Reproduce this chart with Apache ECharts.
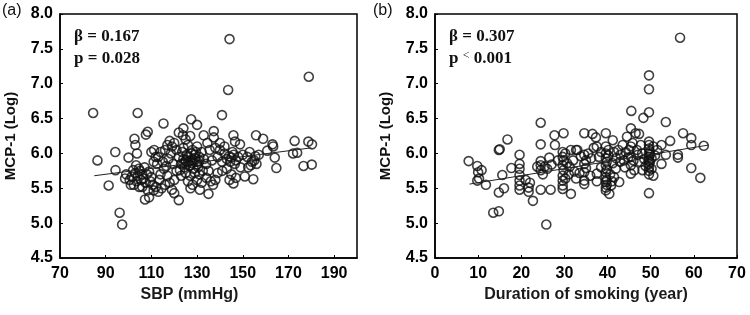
<!DOCTYPE html>
<html>
<head>
<meta charset="utf-8">
<script src="https://cdn.jsdelivr.net/npm/echarts@6/dist/echarts.min.js"></script>
<style>
  html, body { margin: 0; padding: 0; background: #fff; }
  #chart { width: 750px; height: 315px; }
</style>
</head>
<body>
<div id="chart"></div>
<script>
// (a) SBP vs MCP-1 (Log)
var sbpData = [
  [84.5,6.58],[86.4,5.90],[91.3,5.54],[94.2,6.02],[94.3,5.76],[96.1,5.15],[97.2,4.98],
  [104,6.58],[100,5.94],[102.6,6.21],[103,6.12],[103.7,6.00],[103.3,5.83],[98.5,5.64],
  [101.4,5.67],[102.3,5.55],[104.7,5.52],[107.2,5.34],[109,5.37],[107.6,6.27],[108.4,6.31],
  [115.3,6.43],[111.2,6.05],[111.9,5.95],[122,5.33],[120,5.43],[127.4,6.49],[130,6.41],
  [124,6.36],[123.8,6.26],[140.9,6.55],[143.6,6.91],[144.2,7.64],[132.9,6.26],[137.3,6.32],
  [137.3,6.23],[145.9,6.26],[146.6,6.17],[148.8,6.13],[155.8,6.26],[158.9,6.21],[160.7,6.04],
  [163,6.13],[163.3,6.10],[164,5.94],[164.7,5.79],[172.7,6.18],[172,6.00],[173.8,6.01],
  [178.9,7.10],[178.7,6.17],[180.3,6.13],[176.6,5.82],[180.2,5.84],[154.6,5.63],[152.4,5.80],
  [150.9,5.67],[145.9,5.57],[144.2,5.62],[135,5.42],[131.2,5.48],[127.1,5.50],
  [103,5.72],[104,5.68],[105,5.75],[106,5.70],[104.5,5.78],[106.5,5.64],[107,5.80],[105.5,5.62],
  [108,5.70],[102,5.76],[103.5,5.60],[107.5,5.58],[109,5.74],[110,5.66],[100.5,5.62],[99,5.70],
  [101,5.55],[106,5.52],[108.5,5.47],[110.5,5.55],[112,5.52],[113,5.45],[114.5,5.50],[111,5.47],
  [109.5,5.60],
  [113,5.95],[114,6.02],[115,5.88],[116,6.05],[117,6.12],[118,6.18],[119,6.10],[120,6.15],
  [118.5,6.00],[117.5,5.92],[116.5,5.82],[115.5,5.78],[119.5,5.85],[121,6.05],[122,5.95],
  [114,5.70],[113.5,5.62],[112.5,5.85],[121,5.75],[120,5.62],[118,5.58],[117,5.68],[116,5.55],
  [119,5.48],[110,6.02],[111,5.88],
  [123,5.85],[124,5.92],[125,5.88],[126,5.95],[127,5.90],[128,5.86],[129,5.93],[130,5.88],
  [131,5.95],[124.5,5.80],[125.5,5.98],[126.5,5.82],[127.5,6.00],[128.5,5.78],[129.5,6.02],
  [130.5,5.80],[123.5,6.02],[122.5,5.76],[124,6.08],[126,6.12],[128,6.05],[130,6.10],[132,6.02],
  [133,5.92],[134,5.85],[132.5,5.75],[131,5.70],[129,5.72],[127,5.68],[125,5.72],[123,5.68],
  [126,5.60],[128,5.55],[130,5.62],[132,5.58],[134,5.65],[135,5.75],[136,5.60],[137,5.55],
  [138,5.62],[136.5,5.90],[135.5,6.05],[134.5,6.15],[125,6.20],[122,6.30],[127,6.25],[129,5.98],
  [127,5.83],[125,5.90],[128,5.91],[126,5.87],[124,5.86],[130,5.84],[131,5.89],
  [139,5.95],[140,6.05],[141,5.88],[142,6.00],[143,5.92],[144,5.96],[145,5.94],[146,5.98],
  [147,5.90],[145.5,6.02],[144.5,5.88],[146.5,5.85],[148,5.95],[143,5.78],[141,5.75],[139,5.72],
  [145,5.70],[147,5.65],[149,5.80],[150,5.98],[142,6.10],[140,6.15],[138,6.08],
  [152,5.95],[153,6.02],[154,5.88],[155,5.90],[156,5.85],[155.5,5.96],[153.5,5.83],[157,5.98]
];
var sbpFit = [[85,5.68],[180,6.08]];
var sbpTicks = [70,90,110,130,150,170,190];

// (b) Duration of smoking vs MCP-1 (Log)
var smokeData = [
  [7.8,5.89],[9.8,5.82],[10,5.73],[10.8,5.76],[9.8,5.61],[10.2,5.64],[11.8,5.55],[13.5,5.15],
  [14.8,5.17],[14.8,5.44],[16,5.50],[15.6,5.69],[14.8,6.05],[15,6.06],[16.8,6.20],[17.7,5.79],
  [19.6,5.98],[19.6,5.85],[19.6,5.78],[19.6,5.69],[19.6,5.61],[19.6,5.54],[19.6,5.48],
  [21.7,5.51],[21.7,5.45],[22.7,5.32],[24.5,6.44],[24.5,6.13],[24.5,5.89],[24.5,5.83],
  [24.5,5.76],[24.5,5.48],[25.8,4.98],[23.7,5.81],[25.4,5.81],[26.8,5.48],[26.5,5.94],
  [27.7,6.26],[27.8,6.12],[29.8,6.29],[29.6,6.02],[29.6,5.95],[29.6,5.83],[29.6,5.68],
  [29.6,5.61],[29.6,5.54],[29.6,5.49],[31.5,5.42],[31.2,5.81],[31.5,6.05],[32.7,6.05],
  [32.7,5.64],[32.3,5.74],[33.5,5.72],[34.6,6.29],[34.6,5.98],[34.6,5.85],[34.6,5.73],
  [34.6,5.61],[34.6,5.56],[36.5,6.28],[36.2,5.93],[37.3,6.23],[37.5,6.10],[37.5,5.71],
  [37.5,5.60],[39.6,6.29],[39.6,6.10],[39.6,6.00],[39.6,5.93],[39.6,5.83],[39.6,5.73],
  [39.6,5.66],[39.6,5.59],[39.6,5.51],[39.6,5.47],[40.4,5.42],[41.2,6.19],[40.8,5.54],
  [41.5,5.66],[41.9,5.78],[41.5,6.02],[42.7,5.59],[42.9,5.88],[43.5,6.12],[44.5,6.24],
  [45.4,6.36],[45.4,6.10],[45.4,5.95],[45.4,5.83],[45.4,5.71],[45.5,6.61],[46.5,6.29],
  [47.3,6.28],[47.7,6.12],[48.1,5.76],[48.3,6.51],[49.6,7.12],[49.6,6.92],[49.6,6.59],
  [49.6,6.17],[49.6,6.12],[49.6,6.07],[49.6,6.00],[49.6,5.95],[49.6,5.90],[49.6,5.85],
  [49.6,5.80],[49.6,5.75],[49.6,5.70],[49.6,5.43],[50.6,5.68],[50.6,6.10],[52.5,6.12],
  [52.5,5.85],[53.5,6.45],[53.5,5.98],[54.5,6.18],[56.8,7.66],[56.3,5.98],[56.3,5.94],
  [57.5,6.29],[59.4,6.22],[59.4,6.12],[59.4,5.79],[61.5,5.65],[62.3,6.11],
  [29.8,5.90],[29.8,5.76],[30.2,6.00],[30.2,5.64],[33,6.05],[35,5.90],[35,5.79],[35.5,6.00],
  [36,5.68],[38,5.95],[38.5,6.02],[38.5,5.80],[39.8,5.88],[39.8,5.77],[39.8,5.62],[39.8,5.55],
  [40.2,5.97],[40.2,6.05],[40.6,5.70],[41,5.60],[41.2,5.86],[42,5.93],[42.5,6.05],[43,5.98],
  [43.8,5.90],[44,5.80],[44.2,6.02],[44.8,5.94],[45,6.05],[45.8,6.15],[46,5.90],[46.2,5.76],
  [46.8,6.05],[47,5.98],[47.5,5.88],[48,6.00],[48.5,5.92],[48.8,5.82],[49.8,6.03],[49.8,5.98],
  [49.8,5.88],[50.2,5.93],[50.2,5.78],[51,5.97],[51.5,6.05],[30.6,5.86],[31,5.70],[28.5,5.90],
  [27,5.84],[25,5.70],[21,5.62],[22,5.58],[36.8,6.08],[33.8,5.96],[32,5.90],[26,5.78]
];
var smokeFit = [[8,5.56],[63.4,6.12]];
var smokeTicks = [0,10,20,30,40,50,60,70];

var yMin = 4.5, yMax = 8.0, yStep = 0.5;

var tickFont = { color: '#000', fontFamily: 'Liberation Sans, Arial', fontWeight: 'bold', fontSize: 16 };

function xAxisCfg(idx, min, max, ticks, name, pad) {
  return {
    gridIndex: idx, type: 'value', min: min, max: max,
    name: name, nameLocation: 'middle', nameGap: 28,
    nameTextStyle: { color: '#1a1a1a', fontFamily: 'Liberation Sans, Arial', fontWeight: 'bold', fontSize: 16, padding: pad },
    axisLine: { lineStyle: { color: '#000', width: 1.5 } },
    axisTick: { show: true, inside: true, length: 3, customValues: ticks, lineStyle: { color: '#000' } },
    axisLabel: Object.assign({ margin: 8, customValues: ticks }, tickFont),
    splitLine: { show: false }
  };
}
function yAxisCfg(idx) {
  return {
    gridIndex: idx, type: 'value', min: yMin, max: yMax, interval: yStep,
    name: 'MCP-1 (Log)', nameLocation: 'middle', nameGap: 42,
    nameTextStyle: { color: '#111', fontFamily: 'Liberation Sans, Arial', fontWeight: 'bold', fontSize: 15 },
    axisLine: { lineStyle: { color: '#000', width: 1.5 } },
    axisTick: { show: true, inside: true, length: 3, lineStyle: { color: '#000' } },
    axisLabel: Object.assign({ margin: 7, formatter: function (v) { return v.toFixed(1); } }, tickFont),
    splitLine: { show: false }
  };
}
function scatter(idx, data) {
  return {
    type: 'scatter', xAxisIndex: idx, yAxisIndex: idx, data: data,
    symbol: 'circle', symbolSize: 9, silent: true,
    itemStyle: { color: 'rgba(0,0,0,0)', borderColor: '#111', borderWidth: 1.6 }
  };
}
function fitLine(idx, data) {
  return {
    type: 'line', xAxisIndex: idx, yAxisIndex: idx, data: data, showSymbol: false, silent: true,
    lineStyle: { color: '#222', width: 1 }, z: 5
  };
}

var chart = echarts.init(document.getElementById('chart'), null, { renderer: 'canvas' });
chart.setOption({
  animation: false,
  backgroundColor: '#fff',
  grid: [
    { left: 60, right: 393, top: 14, bottom: 57, show: true, borderColor: '#000', borderWidth: 1.5, backgroundColor: 'transparent' },
    { left: 435, right: 13, top: 14, bottom: 57, show: true, borderColor: '#000', borderWidth: 1.5, backgroundColor: 'transparent' }
  ],
  xAxis: [
    xAxisCfg(0, 70, 200, sbpTicks, 'SBP (mmHg)', [0, 38, 0, 0]),
    xAxisCfg(1, 0, 70, smokeTicks, 'Duration of smoking (year)', 0)
  ],
  yAxis: [yAxisCfg(0), yAxisCfg(1)],
  series: [
    scatter(0, sbpData), fitLine(0, sbpFit),
    scatter(1, smokeData), fitLine(1, smokeFit)
  ],
  graphic: [
    { type: 'text', left: 2, top: 3, style: { text: '(a)', fontFamily: 'Liberation Sans, Arial', fontSize: 16, fill: '#111' } },
    { type: 'text', left: 373, top: 3, style: { text: '(b)', fontFamily: 'Liberation Sans, Arial', fontSize: 16, fill: '#111' } },
    { type: 'text', left: 74, top: 28, style: { text: 'β = 0.167', fontFamily: 'Liberation Serif, Times New Roman', fontWeight: 'bold', fontSize: 17, fill: '#111' } },
    { type: 'text', left: 74, top: 50, style: { text: 'p = 0.028', fontFamily: 'Liberation Serif, Times New Roman', fontWeight: 'bold', fontSize: 17, fill: '#111' } },
    { type: 'text', left: 449, top: 28, style: { text: 'β = 0.307', fontFamily: 'Liberation Serif, Times New Roman', fontWeight: 'bold', fontSize: 17, fill: '#111' } },
    { type: 'text', left: 449, top: 50, style: {
        text: '{a|p }{b|<}{a| 0.001}',
        rich: {
          a: { fontFamily: 'Liberation Serif, Times New Roman', fontWeight: 'bold', fontSize: 17, fill: '#111' },
          b: { fontFamily: 'Liberation Serif, Times New Roman', fontSize: 12, fill: '#111', verticalAlign: 'top', padding: [0, 0, 6, 0] }
        }
    } }
  ]
});
</script>
</body>
</html>
